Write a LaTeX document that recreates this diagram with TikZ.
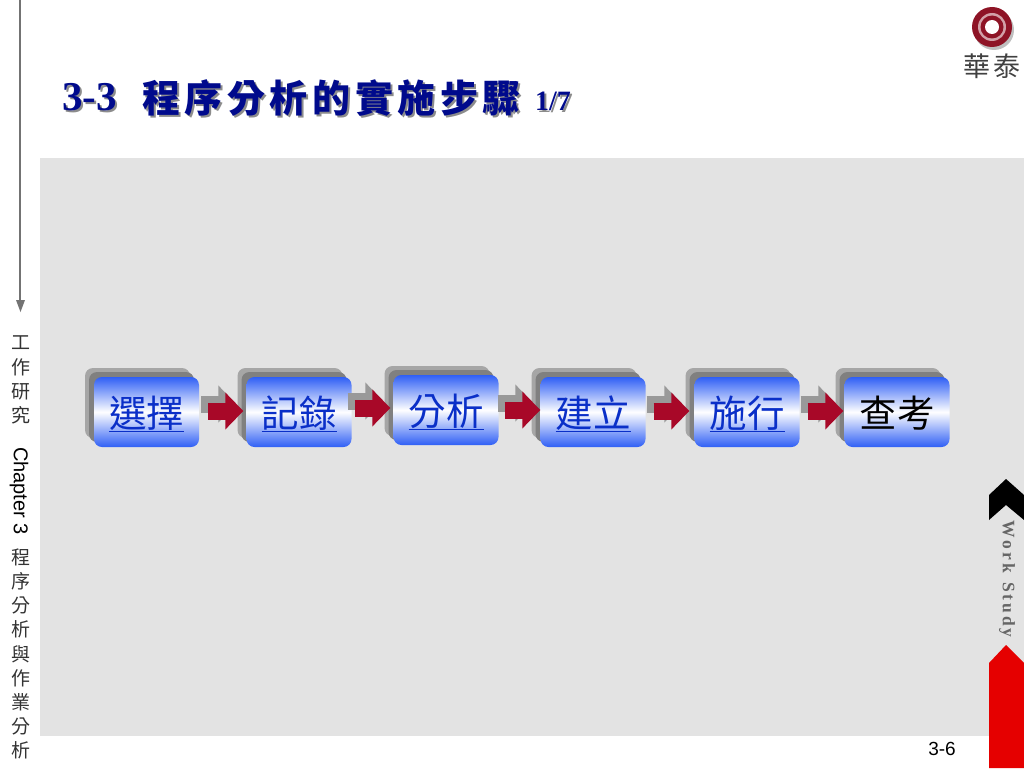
\documentclass[tikz,border=0pt]{standalone}
\usepackage{fontspec}
\setmainfont{Liberation Serif}
\setsansfont{Liberation Sans}
\newfontfamily\cjk{Noto Sans CJK TC}
\newfontfamily\cjkt[LetterSpace=12]{Noto Sans CJK TC}
\newfontfamily\cjkl[LetterSpace=8]{Noto Sans CJK TC}
\usetikzlibrary{positioning,arrows.meta}
\definecolor{panelgray}{HTML}{E3E3E3}
\definecolor{boxblue}{HTML}{2F5FF5}
\definecolor{linkblue}{HTML}{0A2FC8}
\definecolor{titleblue}{HTML}{000A8C}
\definecolor{arrowred}{HTML}{A80828}
\definecolor{logored}{HTML}{8E1426}
\tikzset{
  stepbox/.style={rectangle,rounded corners=8pt,minimum width=105pt,minimum height=70pt,inner sep=0pt,
    text height=30pt,text depth=0pt,
    top color=boxblue,bottom color=boxblue,middle color=white,text=linkblue,font=\cjk\fontsize{37.5}{40}\selectfont},
  backbox/.style={rectangle,rounded corners=8pt,minimum width=105pt,minimum height=70pt,inner sep=0pt},
  sidetext/.style={align=center,font=\cjk\fontsize{19}{24.2}\selectfont,text=black!80,inner sep=0pt},
  flow/.style={line width=17pt,-{Triangle[length=18pt,width=36pt]}},
}
\begin{document}
\begin{tikzpicture}[x=1pt,y=-1pt]
\useasboundingbox (0,0) rectangle (1024,768);
% panel and side bar
\fill[panelgray] (40,158) rectangle (1024,736);
\draw[black!55,line width=1.5pt] (20,0)--(20,304);
\fill[black!55] (16,300)--(25,300)--(20.5,312)--cycle;
\node[sidetext] (sidea) at (21,380) {工\\作\\研\\究};
\node[rotate=-90,font=\sffamily\fontsize{20}{22}\selectfont,inner sep=0pt] (sideb) at (19,491) {Chapter 3};
\node[sidetext] (sidec) at (21,654) {程\\序\\分\\析\\與\\作\\業\\分\\析};
% title
\node[anchor=base west,inner sep=0pt,text=black!45,font=\bfseries\fontsize{41}{44}\selectfont] at (64,112) {3-3};
\node[anchor=base west,inner sep=0pt,text=titleblue,font=\bfseries\fontsize{41}{44}\selectfont] (num) at (62,110) {3-3};
\node[anchor=base west,inner sep=0pt,text=black!45,font=\cjkt\bfseries\fontsize{38}{40}\selectfont] at (144,114) {程序分析的實施步驟};
\node[anchor=base west,inner sep=0pt,text=titleblue,font=\cjkt\bfseries\fontsize{38}{40}\selectfont] (title) at (142,112) {程序分析的實施步驟};
\node[anchor=base west,inner sep=0pt,text=black!45,font=\bfseries\fontsize{28}{30}\selectfont] at (537,112) {1/7};
\node[anchor=base west,inner sep=0pt,text=titleblue,font=\bfseries\fontsize{28}{30}\selectfont] (part) at (535,110) {1/7};
% logo
\fill[black!25] (994,30) circle(20);
\fill[logored] (992,27) circle(20);
\fill[logored!40] (992,27) circle(14);
\fill[logored] (992,27) circle(11.5);
\fill[white] (992,27) circle(7);
\node[font=\cjkl\fontsize{27}{30}\selectfont,text=black!75,inner sep=0pt] (logotext) at (992,66) {華泰};
% shadows and boxes
\foreach \name/\cx/\cy/\txt in {a/146.5/412/選擇,b/299/412/記錄,c/446/410/分析,d/593/412/建立,e/747/412/施行}{
  \node[backbox,fill=black!35] at (\cx-9,\cy-9) {};
  \node[backbox,fill=black!50] at (\cx-5,\cy-5) {};
  \node[stepbox] (\name) at (\cx,\cy) {\underline{\txt}};
}
\node[backbox,fill=black!35] at (888,403) {};
\node[backbox,fill=black!50] at (892,407) {};
\node[stepbox,text=black] (f) at (897,412) {查考};
% block arrows
\foreach \from/\to/\sl/\sr/\dy in {a/b/9/3/0,b/c/3/3/3,c/d/6/0/-1,d/e/8/5/0,e/f/8/1/0}{
  \draw[flow,black!40,shorten <=\sl pt-7pt,shorten >=\sr pt+7pt] ([yshift=\dy pt+8pt]\from.east)--([yshift=\dy pt+8pt]\from.east -| \to.west);
  \draw[flow,arrowred,shorten <=\sl pt,shorten >=\sr pt] ([yshift=\dy pt+1pt]\from.east)--([yshift=\dy pt+1pt]\from.east -| \to.west);
}
% right bar
\fill[black] (1006,479)--(1024,495)--(1024,520)--(1006,505)--(989,520)--(989,495)--cycle;
\fill[white] (989,736) rectangle (1024,768);
\fill[red!90!black] (1006,645)--(1024,663)--(1024,768)--(989,768)--(989,663)--cycle;
\node[rotate=-90,text=black!60,inner sep=0pt,font=\bfseries\fontsize{17.5}{20}\selectfont] (worklabel) at (1007,579) {W\,o\,r\,k\; S\,t\,u\,d\,y};
\node[anchor=east,font=\sffamily\fontsize{19}{20}\selectfont,inner sep=0pt] (page) at (956,749) {3-6};
\end{tikzpicture}
\end{document}
